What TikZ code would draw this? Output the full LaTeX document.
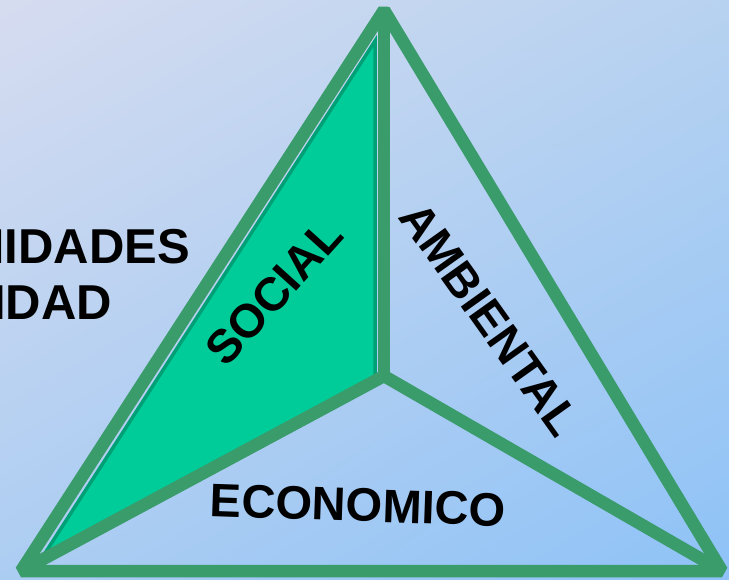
\documentclass[tikz,border=0pt]{standalone}
\usepackage{fontspec}
\setmainfont{Liberation Sans}
\usetikzlibrary{shadings}
\definecolor{lineg}{RGB}{58,155,107}
\definecolor{fillg}{RGB}{0,204,153}
\definecolor{fillgd}{RGB}{0,160,118}
\definecolor{bgtl}{RGB}{214,220,240}
\definecolor{bgtr}{RGB}{183,210,240}
\definecolor{bgbl}{RGB}{172,205,242}
\definecolor{bgbr}{RGB}{142,194,247}
\begin{document}
\begin{tikzpicture}[x=1pt,y=-1pt,
  edge/.style={draw=lineg,line width=12.5pt,line join=bevel},
  lbl/.style={font=\bfseries\fontsize{47}{47}\selectfont,inner sep=0pt,text=black},
  side/.style={font=\bfseries\fontsize{49}{49}\selectfont,inner sep=0pt,text=black}]
\useasboundingbox (0,0) rectangle (729,579);
\clip (0,0) rectangle (729,579);
\shade[upper left=bgtl,upper right=bgtr,lower left=bgbl,lower right=bgbr] (0,0) rectangle (729,579);
% vertices
\coordinate (A) at (384,10);
\coordinate (B) at (21,571);
\coordinate (C) at (722,571);
\coordinate (O) at (384,376);
\coordinate (F1) at (375,41);
\coordinate (F2) at (40,561);
\coordinate (F3) at (375,378);
% green face
\fill[fillg] (F1) -- (F2) -- (F3) -- cycle;
\draw[fillgd,line width=3.5pt] (F2) -- (F1) -- (F3);
% triangle edges
\draw[edge] (A) -- (B) -- (C) -- cycle;
\draw[edge] (A) -- (O);
\draw[edge] (B) -- (O) -- (C);
% labels
\node[side,anchor=base east] (t1) at (190,263) {NIDADES};
\node[side,anchor=base east] (t2) at (112,319) {IDAD};
\node[lbl,rotate=48] (soc) at (274,292) {SOCIAL};
\node[lbl,rotate=-54.5] (amb) at (490,319) {AMBIENTAL};
\node[lbl,rotate=-2] (eco) at (358,505) {ECONOMICO};
\end{tikzpicture}
\end{document}
